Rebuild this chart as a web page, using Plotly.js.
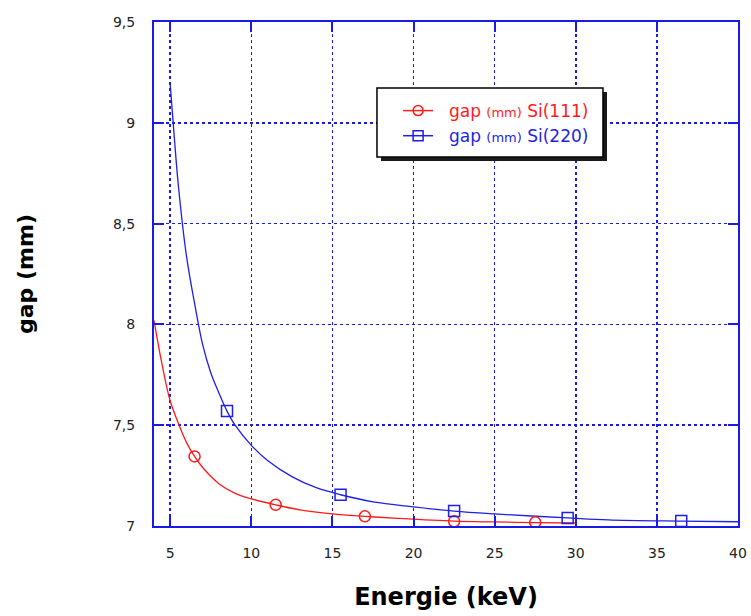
<!DOCTYPE html>
<html><head><meta charset="utf-8">
<script src="https://cdn.plot.ly/plotly-3.0.1.min.js"></script>
<style>body{margin:0;background:#fff}#c{width:751px;height:616px}</style>
</head><body><div id="c"></div>
<script>
// Si(111) curve
const si111X = [4, 4.5, 5, 5.5, 6, 6.5, 7, 8, 9, 10, 11.5, 13, 15, 17, 19, 22.5, 25, 27.5, 30];
const si111Y = [8.02, 7.80, 7.62, 7.51, 7.415, 7.345, 7.29, 7.21, 7.162, 7.135, 7.105, 7.08, 7.06, 7.048, 7.038, 7.024, 7.02, 7.017, 7.015];
// Si(220) curve
const si220X = [5, 5.25, 5.5, 6, 6.5, 7, 7.5, 8, 8.5, 9, 10, 11, 12.5, 14, 15.5, 17.5, 20, 22.5, 25, 29.5, 32, 36.5, 40];
const si220Y = [9.19, 8.93, 8.69, 8.34, 8.105, 7.90, 7.76, 7.66, 7.57, 7.50, 7.40, 7.325, 7.245, 7.19, 7.155, 7.12, 7.095, 7.074, 7.06, 7.04, 7.03, 7.024, 7.021];
// marker points
const si111MX = [6.5, 11.5, 17, 22.5, 27.5];
const si111MY = [7.345, 7.105, 7.048, 7.023, 7.018];
const si220MX = [8.5, 15.5, 22.5, 29.5, 36.5];
const si220MY = [7.57, 7.155, 7.074, 7.04, 7.025];
const xTicks = [5, 10, 15, 20, 25, 30, 35, 40];
const yTicks = [7, 7.5, 8, 8.5, 9, 9.5];
const yTickText = ['7', '7,5', '8', '8,5', '9', '9,5'];
const name111 = 'gap <span style="font-size:13px">(mm)</span> Si(111)';
const name220 = 'gap <span style="font-size:13px">(mm)</span> Si(220)';

const RED = '#ff1a1a', BLUE = '#1f1fe6', AX = '#1a1ae6';
const PAD = '&nbsp;&nbsp;';

const traces = [
  {x: si111X, y: si111Y, mode: 'lines', line: {color: RED, width: 1.3, shape: 'spline'}, showlegend: false, hoverinfo: 'skip'},
  {x: si220X, y: si220Y, mode: 'lines', line: {color: BLUE, width: 1.3, shape: 'spline'}, showlegend: false, hoverinfo: 'skip'},
  {x: si111MX, y: si111MY, mode: 'markers', marker: {symbol: 'circle-open', size: 11, color: RED, line: {width: 1.5}}, showlegend: false},
  {x: si220MX, y: si220MY, mode: 'markers', marker: {symbol: 'square-open', size: 11, color: BLUE, line: {width: 1.5}}, showlegend: false},
  {x: [null], y: [null], mode: 'lines+markers', name: PAD + '<span style="color:' + RED + '">' + name111 + '</span>',
   line: {color: RED, width: 1.5}, marker: {symbol: 'circle-open', size: 10, color: RED, line: {width: 1.5}}},
  {x: [null], y: [null], mode: 'lines+markers', name: PAD + '<span style="color:' + BLUE + '">' + name220 + '</span>',
   line: {color: BLUE, width: 1.5}, marker: {symbol: 'square-open', size: 10, color: BLUE, line: {width: 1.5}}}
];

const layout = {
  width: 751, height: 616,
  margin: {l: 154, r: 13, t: 22, b: 90},
  paper_bgcolor: '#fff', plot_bgcolor: '#fff',
  separators: ', ',
  font: {family: 'DejaVu Sans', color: '#111'},
  xaxis: {
    range: [4, 40], tickvals: xTicks, ticktext: xTicks.map(String),
    showline: true, linecolor: AX, linewidth: 2, mirror: 'ticks',
    ticks: 'inside', ticklen: 10, tickwidth: 2, tickcolor: AX,
    showgrid: true, gridcolor: AX, griddash: 'dot', gridwidth: 1.5,
    zeroline: false, tickfont: {size: 14, color: '#222'}, ticklabelstandoff: 13,
    title: {text: '<b>Energie (keV)</b>', font: {size: 24, color: '#000'}, standoff: 28}
  },
  yaxis: {
    range: [7, 9.5], tickvals: yTicks, ticktext: yTickText,
    showline: true, linecolor: AX, linewidth: 2, mirror: 'ticks',
    ticks: 'inside', ticklen: 10, tickwidth: 2, tickcolor: AX,
    showgrid: true, gridcolor: AX, griddash: 'dot', gridwidth: 1.5,
    zeroline: false, tickfont: {size: 14, color: '#222'}, ticklabelstandoff: 14,
    title: {text: '<b>gap (mm)</b>', font: {size: 22, color: '#000'}, standoff: 73}
  },
  legend: {x: 0.418, y: 0.859, xanchor: 'left', yanchor: 'top', bgcolor: 'rgba(0,0,0,0)',
    borderwidth: 0, font: {size: 17}, tracegroupgap: 0},
  shapes: [
    {type: 'rect', xref: 'paper', yref: 'paper', x0: 0.3887, x1: 0.7757, y0: 0.7242, y1: 0.8611,
     fillcolor: '#1a1a1a', line: {width: 0}, layer: 'above'},
    {type: 'rect', xref: 'paper', yref: 'paper', x0: 0.3818, x1: 0.7688, y0: 0.7321, y1: 0.869,
     fillcolor: '#fff', line: {color: '#000', width: 1.5}, layer: 'above'}
  ]
};
Plotly.newPlot('c', traces, layout, {displayModeBar: false, staticPlot: true});
</script></body></html>
